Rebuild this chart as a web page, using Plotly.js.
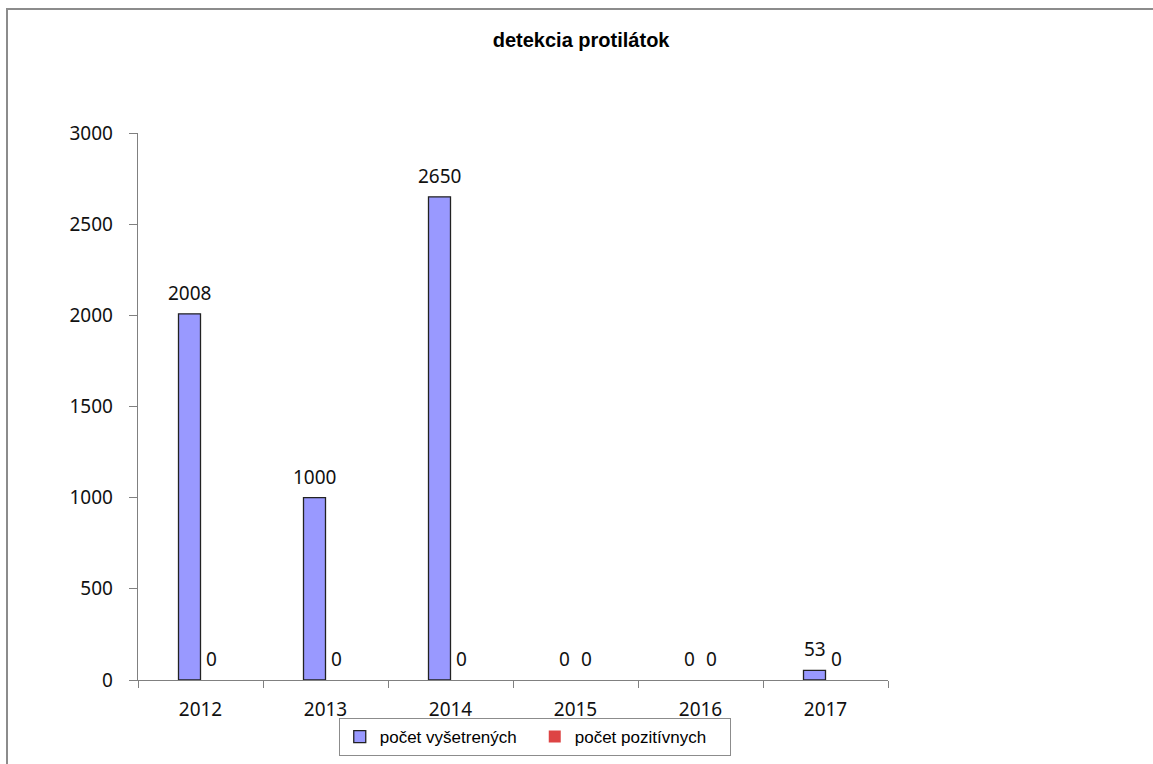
<!DOCTYPE html>
<html>
<head>
<meta charset="utf-8">
<script src="https://cdn.plot.ly/plotly-3.0.1.min.js"></script>
<style>
html,body{margin:0;padding:0;background:#fff;}
#wrap{position:relative;width:1153px;height:764px;}
#chart{width:1153px;height:764px;}
#frame{position:absolute;left:6px;top:8px;right:0;bottom:0;border-top:2px solid #8c8c8c;border-left:2px solid #8c8c8c;pointer-events:none;}
</style>
</head>
<body>
<div id="wrap"><div id="chart"></div><div id="frame"></div></div>
<script>
const years = ['2012','2013','2014','2015','2016','2017'];
const vysetrenych = [2008, 1000, 2650, 0, 0, 53];
const pozitivnych = [0, 0, 0, 0, 0, 0];
const seriesNames = ['počet vyšetrených', 'počet pozitívnych'];
const chartTitle = 'detekcia protilátok';

const numFont = {family: 'Noto Sans, Open Sans, sans-serif', size: 19, color: '#111'};
const outline = vals => vals.map(v => v > 0 ? 1.3 : 0);

const traces = [
  {
    type: 'bar', name: seriesNames[0], x: years, y: vysetrenych,
    marker: {color: '#9999FF', line: {color: '#222', width: outline(vysetrenych)}},
    hoverinfo: 'x+y'
  },
  {
    type: 'bar', name: seriesNames[1], x: years, y: pozitivnych,
    marker: {color: '#DD4444', line: {color: '#222', width: outline(pozitivnych)}},
    hoverinfo: 'x+y'
  }
];

// value labels, placed through the data scales above each bar of the group
const annotations = [];
[vysetrenych, pozitivnych].forEach((vals, s) => {
  vals.forEach((v, i) => {
    annotations.push({
      x: i, y: v, xref: 'x', yref: 'y', text: String(v), showarrow: false,
      xshift: s === 0 ? -11 : 11, yshift: 6, yanchor: 'bottom', xanchor: 'center',
      font: numFont
    });
  });
});

const layout = {
  width: 1153, height: 764,
  margin: {l: 138, r: 265, t: 133, b: 84, autoexpand: false},
  paper_bgcolor: '#fff', plot_bgcolor: '#fff',
  title: {text: '<b>' + chartTitle + '</b>', x: 0.504, xref: 'container', xanchor: 'center',
          y: 1 - 40/764, yref: 'container', yanchor: 'middle',
          font: {family: 'Liberation Sans, Arial, sans-serif', size: 20, color: '#000'}},
  barmode: 'group', bargap: 0.648, bargroupgap: 0,
  showlegend: true,
  legend: {orientation: 'h', x: 0.529, xanchor: 'center', y: -0.0695, yanchor: 'top',
           bordercolor: '#8c8c8c', borderwidth: 1, bgcolor: '#fff',
           font: {family: 'Liberation Sans, Arial, sans-serif', size: 17, color: '#000'},
           itemwidth: 30, entrywidth: 150, traceorder: 'normal'},
  annotations: annotations,
  xaxis: {type: 'category', categoryorder: 'array', categoryarray: years,
          range: [-0.5, years.length - 0.5], showgrid: false, zeroline: false, showline: true,
          linecolor: '#808080', linewidth: 1.3, ticks: 'outside', tickson: 'boundaries',
          ticklen: 7, tickcolor: '#808080', tickfont: numFont, ticklabelstandoff: 12,
          fixedrange: true},
  yaxis: {range: [0, 3000], tickvals: [0, 500, 1000, 1500, 2000, 2500, 3000],
          showgrid: false, zeroline: false, showline: true, linecolor: '#808080', linewidth: 1.3,
          ticks: 'outside', ticklen: 8, tickcolor: '#808080', tickfont: numFont,
          ticklabelstandoff: 12, fixedrange: true}
};

Plotly.newPlot('chart', traces, layout, {displayModeBar: false, staticPlot: true});
</script>
</body>
</html>
